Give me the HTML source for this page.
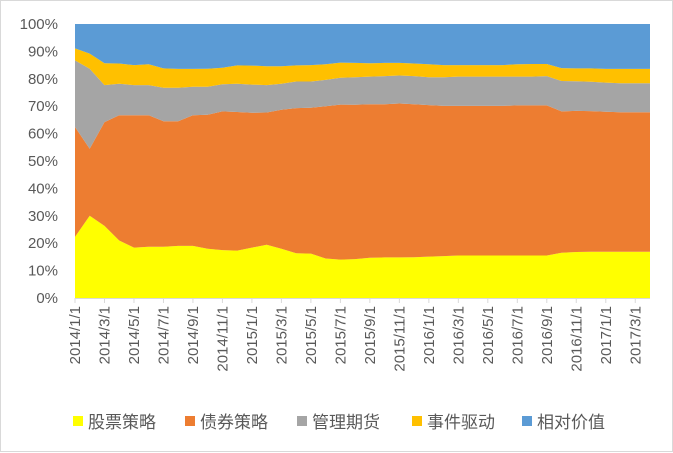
<!DOCTYPE html>
<html><head><meta charset="utf-8">
<style>
html,body{margin:0;padding:0;background:#fff;}
#wrap{position:relative;width:673px;height:452px;box-sizing:border-box;border:1px solid #d9d9d9;}
svg{position:absolute;left:0;top:0;}
text{font-family:"Liberation Sans","Noto Sans CJK SC",sans-serif;fill:#595959;}
</style></head>
<body>
<div id="wrap">
<svg id="chart" width="673" height="452"></svg>
</div>
<script>
const seriesNames = ["股票策略","债券策略","管理期货","事件驱动","相对价值"];
const colors = ["#FFFF00","#ED7D31","#A5A5A5","#FFC000","#5B9BD5"];
const stock = [22.3,30,26.3,21,18.4,18.7,18.7,19,19,18,17.5,17.3,18.4,19.4,18,16.3,16.2,14.4,14,14.2,14.7,14.8,14.8,14.9,15.1,15.3,15.5,15.5,15.5,15.5,15.5,15.5,15.5,16.5,16.8,16.9,16.9,16.9,16.9,16.9];
const bond = [40.1,24.5,37.9,45.7,48.3,48,45.8,45.5,47.7,48.9,50.6,50.6,49.2,48.3,50.7,53,53.2,55.6,56.6,56.3,56,55.9,56.2,55.8,55.3,54.8,54.6,54.6,54.6,54.6,54.8,54.8,54.8,51.6,51.5,51.3,51.1,50.9,50.9,50.9];
const managed = [24.3,29.2,13.5,11.5,11,11,12.2,12.2,10.4,10.2,9.9,10.3,10.3,10,9.5,9.7,9.6,9.6,9.8,10.1,10.1,10.3,10.2,10.3,10.2,10.5,10.7,10.7,10.7,10.7,10.5,10.5,10.7,11.1,10.8,10.7,10.6,10.6,10.6,10.6];
const eventDriven = [4.4,5.5,8,7.4,7.3,7.6,7.1,6.9,6.5,6.6,6,6.7,6.9,6.9,6.4,5.9,6,5.7,5.5,5.2,4.9,4.8,4.6,4.6,4.7,4.4,4.2,4.2,4.2,4.2,4.5,4.6,4.4,4.7,4.7,4.9,5,5.2,5.2,5.2];
const relative = [8.9,10.8,14.3,14.4,15,14.7,16.2,16.4,16.4,16.3,16,15.1,15.2,15.4,15.4,15.1,15,14.7,14.1,14.2,14.3,14.2,14.2,14.4,14.7,15,15,15,15,15,14.7,14.6,14.6,16.1,16.2,16.2,16.4,16.4,16.4,16.4];
const xLabels = ["2014/1/1","2014/3/1","2014/5/1","2014/7/1","2014/9/1","2014/11/1","2015/1/1","2015/3/1","2015/5/1","2015/7/1","2015/9/1","2015/11/1","2016/1/1","2016/3/1","2016/5/1","2016/7/1","2016/9/1","2016/11/1","2017/1/1","2017/3/1"];
const yTicks = [0,10,20,30,40,50,60,70,80,90,100];

const NS="http://www.w3.org/2000/svg";
const svg=document.getElementById('chart');
const L=74,R=649,T=23,B=297;
const series=[stock,bond,managed,eventDriven,relative];
const n=stock.length;
const xs=i=>L+(R-L)*i/(n-1);
const ys=p=>B-(B-T)*p/100;
function mk(tag,attrs){const e=document.createElementNS(NS,tag);for(const k in attrs)e.setAttribute(k,attrs[k]);return e;}

const totals=[];for(let i=0;i<n;i++){let s=0;series.forEach(a=>s+=a[i]);totals.push(s);}
let cumLow=new Array(n).fill(0);
series.forEach((arr,si)=>{
  const hi=cumLow.map((v,i)=>v+arr[i]/totals[i]*100);
  let d='';
  for(let i=0;i<n;i++)d+=(i?'L':'M')+xs(i).toFixed(1)+','+ys(hi[i]).toFixed(1);
  for(let i=n-1;i>=0;i--)d+='L'+xs(i).toFixed(1)+','+ys(cumLow[i]).toFixed(1);
  const p=mk('path',{d:d+'Z',fill:colors[si]});
  
  
  svg.appendChild(p);
  cumLow=hi;
});
// axis
const ax=mk('line',{x1:L,y1:B+0.5,x2:R,y2:B+0.5,stroke:'#d9d9d9','stroke-width':1});


svg.appendChild(ax);
yTicks.forEach(v=>{
  const t=mk('text',{x:57,y:ys(v)+5,'text-anchor':'end','font-size':15});
  t.textContent=v+'%';
  
  
  svg.appendChild(t);
});
xLabels.forEach((lab,k)=>{
  const x=xs(k*2);
  const tk=mk('line',{x1:x,y1:B,x2:x,y2:B+5,stroke:'#d9d9d9'});
  
  
  svg.appendChild(tk);
  const t=mk('text',{x:0,y:0,'text-anchor':'end','font-size':15,transform:'translate('+(x+5)+','+(B+8)+') rotate(-90)'});
  t.textContent=lab;
  
  
  svg.appendChild(t);
});
const legX=[72,184,296,411,521];
seriesNames.forEach((nm,i)=>{
  const g=mk('g',{});
  
  
  g.appendChild(mk('rect',{x:legX[i],y:415,width:10,height:10,fill:colors[i]}));
  const t=mk('text',{x:legX[i]+15,y:427,'font-size':17});
  t.textContent=nm;
  g.appendChild(t);
  svg.appendChild(g);
});
</script>
</body></html>
